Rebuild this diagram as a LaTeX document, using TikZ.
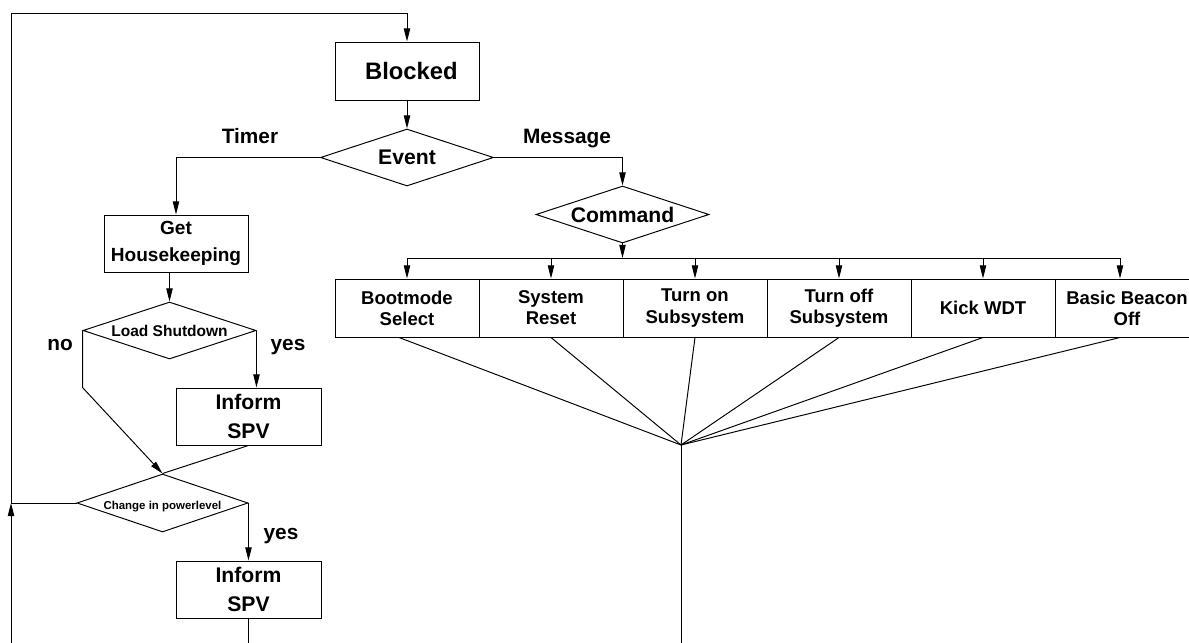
\documentclass[tikz,border=0pt]{standalone}
\usepackage{fontspec}
\setmainfont{Liberation Sans}
\usetikzlibrary{shapes.geometric,arrows.meta,calc}
\newdimen\px \px=0.567pt
\begin{document}
\begin{tikzpicture}[x=0.567pt,y=-0.567pt,line width=0.55pt,
  every node/.style={font=\bfseries},
  arr/.style={-{Triangle[length=7.4pt,width=3.6pt]}},
  proc/.style={draw,rectangle,inner sep=0pt,minimum width=144*\px,minimum height=57*\px,align=center},
  dec/.style={draw,diamond,inner sep=0pt,minimum width=173*\px,minimum height=57*\px},
  big/.style={font=\bfseries\fontsize{12}{16.4}\selectfont},
  mid/.style={font=\bfseries\fontsize{10.8}{15.3}\selectfont},
  cmd/.style={font=\bfseries\fontsize{10.5}{12}\selectfont},
  lbl/.style={anchor=base,inner sep=0pt,font=\bfseries\fontsize{11.8}{14}\selectfont}]
\useasboundingbox (0,0) rectangle (1189,643);
\clip (0,0) rectangle (1189,643);

% main loop
\node[proc,minimum height=58*\px,font=\bfseries\fontsize{13.5}{16}\selectfont] (blocked) at (407,71) {\hspace{5pt}Blocked};
\node[dec,label={[big]center:Event}] (event) at (407,157.5) {};
\node[dec,label={[big]center:Command}] (command) at (622.5,214.5) {};

% timer branch
\node[proc,mid] (gethk) at (176,243.5) {Get\\Housekeeping};
\node[dec,label={[font=\bfseries\fontsize{8.8}{10}\selectfont]center:Load Shutdown}] (loadsd) at (169.5,330.5) {};
\node[proc,big,minimum width=145*\px] (inform1) at (248.5,416.5) {Inform\\SPV};
\node[dec,minimum width=171*\px,minimum height=58*\px,
  label={[font=\bfseries\fontsize{6.5}{8}\selectfont,yshift=-2pt]center:Change in powerlevel}] (change) at (162.5,503) {};
\node[proc,big,minimum width=145*\px] (inform2) at (248.5,589.5) {Inform\\SPV};

% command boxes
\node[proc,cmd,minimum height=58*\px] (b1) at (407,308) {Bootmode\\Select};
\node[proc,cmd,minimum height=58*\px] (b2) at (551,308) {System\\Reset};
\node[proc,cmd,minimum height=58*\px] (b3) at (695,308) {Turn on\\Subsystem};
\node[proc,cmd,minimum height=58*\px] (b4) at (839,308) {Turn off\\Subsystem};
\node[proc,cmd,minimum height=58*\px] (b5) at (983,308) {Kick WDT};
\node[proc,cmd,minimum height=58*\px] (b6) at (1127,308) {Basic Beacon\\Off};

% branch labels
\node[lbl] (ltimer) at (250,143) {Timer};
\node[lbl] (lmsg) at (567,143) {Message};
\node[lbl] (lno) at (60,350) {no};
\node[lbl] (lyes1) at (288,350) {yes};
\node[lbl] (lyes2) at (281,539) {yes};

% helper points
\coordinate (tl) at (11,13);
\coordinate (bl) at (11,660);
\coordinate (busL) at (407,258);
\coordinate (busR) at (1120,258);
\coordinate (hub) at (681,445);

% connectors
\draw[arr] (blocked.south) -- (event.north);
\draw[arr] (event.west) -| (gethk.north);
\draw[arr] (event.east) -| (command.north);
\draw[arr] (loadsd.north |- gethk.south) -- (loadsd.north);
\draw[arr] (loadsd.east) -- (loadsd.east |- inform1.north);
\draw[arr] (loadsd.west) -- ($(loadsd.west)+(0,57)$) -- (change.north);
\draw (inform1.south) -- (change.north);
\draw[arr] (change.east) -- (change.east |- inform2.north);
\draw[arr] (inform2.south) -- (inform2.south |- bl) -- (bl) -- (bl |- change.west);
\draw[arr] (change.west) -- (bl |- change.west) -- (tl) -| (blocked.north);

% command fan-out
\draw[arr] (command.south) -- (command.south |- busL);
\draw (busL) -- (busR);
\foreach \b in {b1,b2,b3,b4,b5}
  \draw[arr] (\b.north |- busL) -- (\b.north);
\draw[arr] (busR) -- (busR |- b6.north);

% fan-in to the common point
\draw ($(b1.south)+(-8,0)$) -- (hub);
\draw (b2.south) -- (hub);
\draw (b3.south) -- (hub);
\draw (b4.south) -- (hub);
\draw (b5.south) -- (hub);
\draw ($(b6.south)+(-7,0)$) -- (hub);
\draw (hub) -- (hub |- bl);
\end{tikzpicture}
\end{document}
